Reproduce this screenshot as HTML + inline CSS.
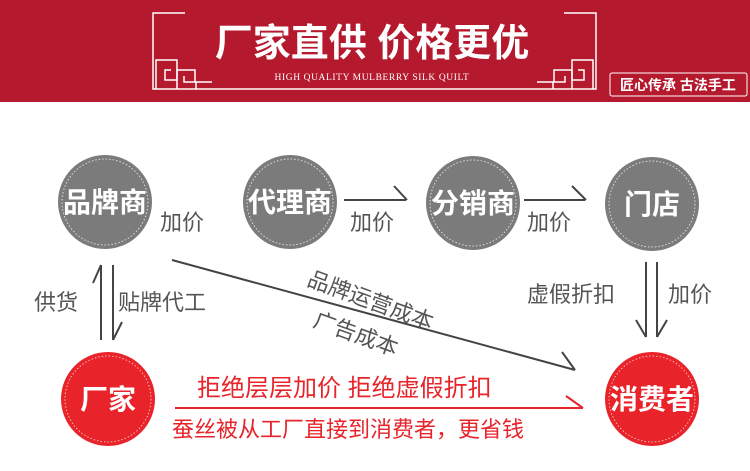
<!DOCTYPE html>
<html><head><meta charset="utf-8"><style>
body{margin:0;width:750px;height:471px;overflow:hidden;background:#fff;font-family:"Liberation Sans","Noto Sans CJK SC",sans-serif}
svg{display:block}
</style></head><body>
<svg width="750" height="471" viewBox="0 0 750 471" xmlns="http://www.w3.org/2000/svg" font-family="Liberation Sans, Noto Sans CJK SC, sans-serif">
<rect x="0" y="0" width="750" height="102" fill="#b4192e"/>
<g stroke="#fff" stroke-width="1.5" fill="none">
<path d="M185 13 H153 V89 H596 V13 H564"/>
<path d="M156 89 V60 H177 V80 H165 V70 H171"/>
<path d="M177 89 V70 H195 V82 H184 V76"/>
<path d="M196 89 V82 H212"/>
<path d="M593 89 V60 H572 V80 H584 V70 H578"/>
<path d="M572 89 V70 H554 V82 H565 V76"/>
<path d="M553 89 V82 H537"/>
</g>
<text x="372" y="56" font-size="38" font-weight="bold" fill="#fff" text-anchor="middle">厂家直供 价格更优</text>
<text x="372" y="80" font-size="9.5" fill="#fff" text-anchor="middle" font-family="Liberation Serif, serif" letter-spacing="0.6">HIGH QUALITY MULBERRY SILK QUILT</text>
<rect x="610" y="73" width="137" height="23" rx="2" fill="none" stroke="#fff" stroke-width="1"/>
<text x="678" y="90" font-size="14" font-weight="bold" fill="#fff" text-anchor="middle">匠心传承  古法手工</text>

<g font-weight="bold" fill="#fff" font-size="28" text-anchor="middle">
<circle cx="105" cy="202" r="47" fill="#7b7b7b"/><circle cx="105" cy="202" r="43" fill="none" stroke="#ddd" stroke-width="1" stroke-dasharray="1.5 2"/>
<text x="105" y="212">品牌商</text>
<circle cx="290" cy="202" r="47" fill="#7b7b7b"/><circle cx="290" cy="202" r="43" fill="none" stroke="#ddd" stroke-width="1" stroke-dasharray="1.5 2"/>
<text x="290" y="212">代理商</text>
<circle cx="473" cy="203" r="47" fill="#7b7b7b"/><circle cx="473" cy="203" r="43" fill="none" stroke="#ddd" stroke-width="1" stroke-dasharray="1.5 2"/>
<text x="473" y="213">分销商</text>
<circle cx="652" cy="204" r="47" fill="#7b7b7b"/><circle cx="652" cy="204" r="43" fill="none" stroke="#ddd" stroke-width="1" stroke-dasharray="1.5 2"/>
<text x="652" y="214">门店</text>
<circle cx="108" cy="399" r="47" fill="#e8232a"/><circle cx="108" cy="399" r="43" fill="none" stroke="#fbb" stroke-width="1" stroke-dasharray="1.5 2"/>
<text x="108" y="409">厂家</text>
<circle cx="652" cy="399" r="47" fill="#e8232a"/><circle cx="652" cy="399" r="43" fill="none" stroke="#fbb" stroke-width="1" stroke-dasharray="1.5 2"/>
<text x="652" y="409">消费者</text>
</g>

<g fill="#555" font-size="22">
<text x="160" y="230">加价</text>
<text x="350" y="230">加价</text>
<text x="527" y="230">加价</text>
<text x="34" y="310">供货</text>
<text x="118" y="310">贴牌代工</text>
<text x="527" y="302">虚假折扣</text>
<text x="668" y="302">加价</text>
<text x="306" y="285" transform="rotate(20 306 285)">品牌运营成本</text>
<text x="312" y="326" transform="rotate(20 312 326)">广告成本</text>
</g>

<g stroke="#444" stroke-width="2" fill="none">
<path d="M344 200 H406 M394 186 L407 200"/>
<path d="M524 200 H585 M572 186 L586 200"/>
<path d="M172 260 L575 370 M562 352 L575 370"/>
<path d="M101 340 V265 M101 265 L93 283"/>
<path d="M113 265 V340 M113 340 L122 322"/>
<path d="M646 262 V337 M646 337 L636 320"/>
<path d="M657 262 V337 M657 337 L667 320"/>
</g>
<path d="M175 408 H583 M566 396 L583 408" stroke="#e8232a" stroke-width="2" fill="none"/>
<text x="197" y="396" font-size="24" fill="#e8232a">拒绝层层加价 拒绝虚假折扣</text>
<text x="172" y="437" font-size="22" fill="#e8232a">蚕丝被从工厂直接到消费者，更省钱</text>
</svg>
</body></html>
